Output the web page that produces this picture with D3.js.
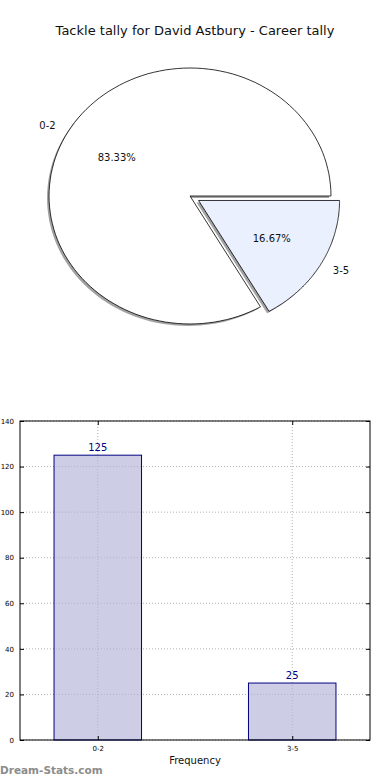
<!DOCTYPE html>
<html>
<head>
<meta charset="utf-8">
<script src="https://cdn.jsdelivr.net/npm/d3@7"></script>
<style>
  body { margin: 0; background: #fff; }
  svg { display: block; font-family: 'DejaVu Sans', sans-serif; }
</style>
</head>
<body>
<div id="chart"></div>
<script>
let title = 'Tackle tally for David Astbury - Career tally'
let categories = ['0-2', '3-5']
let counts = [125, 25]
let sliceColors = ['#ffffff', '#eaf0fd']
let explode = [0, 0.07]
let yTicks = [0, 20, 40, 60, 80, 100, 120, 140]

let width = 390
let height = 780

let svg = d3
  .select('#chart')
  .append('svg')
  .attr('width', width)
  .attr('height', height)

svg
  .append('text')
  .attr('x', 195)
  .attr('y', 35)
  .attr('text-anchor', 'middle')
  .attr('font-size', 13)
  .attr('fill', '#111')
  .text(title)

// ---- pie (elliptical, like the squashed matplotlib axes) ----
let cx = 190
let cy = 196
let rx = 141
let ry = 128

let total = d3.sum(counts)
let pieData = categories.map((c, i) => ({ key: c, value: counts[i], color: sliceColors[i], explode: explode[i] }))

// matplotlib style: start at 3 o'clock, go counterclockwise
let start = 0
pieData.forEach(d => {
  d.a0 = start
  d.a1 = start + (d.value / total) * 2 * Math.PI
  d.mid = (d.a0 + d.a1) / 2
  start = d.a1
})

// unit-circle wedge path in math angles, y flipped for screen
function wedgePath(d) {
  let pts = [[0, 0]]
  let steps = 120
  for (let i = 0; i <= steps; i++) {
    let a = d.a0 + (d.a1 - d.a0) * i / steps
    pts.push([Math.cos(a), -Math.sin(a)])
  }
  return d3.line()(pts) + 'Z'
}

function sliceOffset(d) {
  return [d.explode * Math.cos(d.mid) * rx, -d.explode * Math.sin(d.mid) * ry]
}

let pieG = svg.append('g')

// shadows first
pieG
  .selectAll('.shadow')
  .data(pieData)
  .enter()
  .append('path')
  .attr('class', 'shadow')
  .attr('d', wedgePath)
  .attr('transform', d => {
    let o = sliceOffset(d)
    return 'translate(' + (cx + o[0] - 2) + ',' + (cy + o[1] + 2) + ') scale(' + rx + ',' + ry + ')'
  })
  .attr('fill', '#7a7a7a')
  .attr('opacity', 0.7)

pieG
  .selectAll('.wedge')
  .data(pieData)
  .enter()
  .append('path')
  .attr('class', 'wedge')
  .attr('d', wedgePath)
  .attr('transform', d => {
    let o = sliceOffset(d)
    return 'translate(' + (cx + o[0]) + ',' + (cy + o[1]) + ') scale(' + rx + ',' + ry + ')'
  })
  .attr('fill', d => d.color)
  .attr('stroke', '#000')
  .attr('stroke-width', 0.8)
  .attr('vector-effect', 'non-scaling-stroke')

// category labels
pieG
  .selectAll('.cat-label')
  .data(pieData)
  .enter()
  .append('text')
  .attr('class', 'cat-label')
  .attr('x', d => cx + (1.1 + d.explode) * Math.cos(d.mid) * rx)
  .attr('y', d => cy - (1.1 + d.explode) * Math.sin(d.mid) * ry)
  .attr('dy', '0.35em')
  .attr('text-anchor', d => (Math.cos(d.mid) < 0 ? 'end' : 'start'))
  .attr('font-size', 10)
  .attr('fill', '#111')
  .text(d => d.key)

pieG
  .selectAll('.pct-label')
  .data(pieData)
  .enter()
  .append('text')
  .attr('class', 'pct-label')
  .attr('x', d => cx + (0.6 + d.explode) * Math.cos(d.mid) * rx)
  .attr('y', d => cy - (0.6 + d.explode) * Math.sin(d.mid) * ry)
  .attr('dy', '0.35em')
  .attr('text-anchor', 'middle')
  .attr('font-size', 10)
  .attr('fill', '#111')
  .text(d => (d.value / total * 100).toFixed(2) + '%')

// ---- bar chart ----
let margin = { top: 421, left: 20, right: 20, bottom: 40 }
let bw = width - margin.left - margin.right
let bh = height - margin.top - margin.bottom

let g = svg
  .append('g')
  .attr('transform', 'translate(' + margin.left + ',' + margin.top + ')')

let xPositionScale = d3.scaleLinear().domain([-0.4, 1.4]).range([0, bw])
let yPositionScale = d3.scaleLinear().domain([0, 140]).range([bh, 0])
let barWidth = 0.45

// grid
g.selectAll('.hgrid')
  .data(yTicks)
  .enter()
  .append('line')
  .attr('class', 'hgrid')
  .attr('x1', 0)
  .attr('x2', bw)
  .attr('y1', d => yPositionScale(d))
  .attr('y2', d => yPositionScale(d))
  .attr('stroke', '#b0b0b0')
  .attr('stroke-dasharray', '1,2')

g.selectAll('.vgrid')
  .data(categories)
  .enter()
  .append('line')
  .attr('class', 'vgrid')
  .attr('x1', (d, i) => xPositionScale(i))
  .attr('x2', (d, i) => xPositionScale(i))
  .attr('y1', 0)
  .attr('y2', bh)
  .attr('stroke', '#b0b0b0')
  .attr('stroke-dasharray', '1,2')

g.selectAll('.bar')
  .data(counts)
  .enter()
  .append('rect')
  .attr('class', 'bar')
  .attr('x', (d, i) => xPositionScale(i - barWidth / 2))
  .attr('width', xPositionScale(barWidth) - xPositionScale(0))
  .attr('y', d => yPositionScale(d))
  .attr('height', d => bh - yPositionScale(d))
  .attr('fill', '#b2b2d8')
  .attr('fill-opacity', 0.65)
  .attr('stroke', '#000080')
  .attr('stroke-width', 1)

g.selectAll('.bar-label')
  .data(counts)
  .enter()
  .append('text')
  .attr('class', 'bar-label')
  .attr('x', (d, i) => xPositionScale(i))
  .attr('y', d => yPositionScale(d) - 4)
  .attr('text-anchor', 'middle')
  .attr('font-size', 10)
  .attr('fill', '#000080')
  .text(d => d)

let yAxis = d3.axisLeft(yPositionScale).tickValues(yTicks).tickSize(-4).tickPadding(6)
g.append('g')
  .attr('class', 'axis y-axis')
  .call(yAxis)

let yAxisRight = d3.axisRight(yPositionScale).tickValues(yTicks).tickSize(-4).tickFormat('')
g.append('g')
  .attr('class', 'axis y-axis-right')
  .attr('transform', 'translate(' + bw + ',0)')
  .call(yAxisRight)

let xAxis = d3
  .axisBottom(xPositionScale)
  .tickValues([0, 1])
  .tickFormat(d => categories[d])
  .tickSize(-4)
  .tickPadding(6)
g.append('g')
  .attr('class', 'axis x-axis')
  .attr('transform', 'translate(0,' + bh + ')')
  .call(xAxis)

let xAxisTop = d3.axisTop(xPositionScale).tickValues([0, 1]).tickSize(-4).tickFormat('')
g.append('g')
  .attr('class', 'axis x-axis-top')
  .call(xAxisTop)

g.selectAll('.axis .domain').remove()
g.selectAll('.axis text').attr('font-size', 7).attr('fill', '#000').attr('font-family', 'DejaVu Sans, sans-serif')
g.selectAll('.axis line').attr('stroke', '#000')

g.append('rect')
  .attr('width', bw)
  .attr('height', bh)
  .attr('fill', 'none')
  .attr('stroke', '#000')
  .attr('stroke-width', 1)

g.append('text')
  .attr('x', bw / 2)
  .attr('y', bh + 24)
  .attr('text-anchor', 'middle')
  .attr('font-size', 10)
  .attr('fill', '#111')
  .text('Frequency')

svg
  .append('text')
  .attr('x', 0)
  .attr('y', 774)
  .attr('font-size', 10.5)
  .attr('font-weight', 'bold')
  .attr('fill', '#8c8c8c')
  .text('Dream-Stats.com')
</script>
</body>
</html>
